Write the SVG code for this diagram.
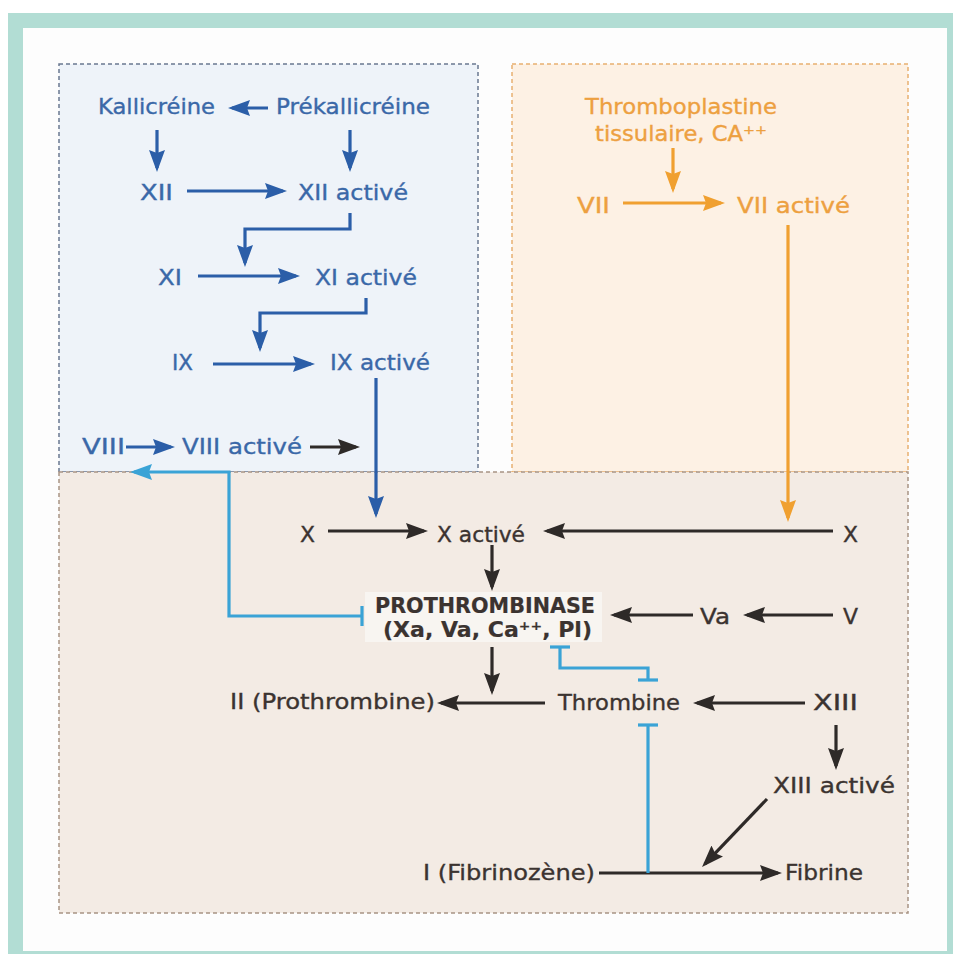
<svg xmlns="http://www.w3.org/2000/svg" width="953" height="954" viewBox="0 0 953 954">
<style>
text{font-family:Verdana,"DejaVu Sans",sans-serif;font-size:21px;text-anchor:middle;stroke-width:0.35}
.b{fill:#3a68a8;stroke:#3a68a8}
.o{fill:#eda040;stroke:#eda040}
.k{fill:#3b3330;stroke:#3b3330}
.bold{font-weight:bold;stroke-width:0.2}
.cb{fill:none;stroke:#2b5ea8;stroke-width:3.2}
.ck{fill:none;stroke:#2e2a28;stroke-width:3.2}
.co{fill:none;stroke:#f0a030;stroke-width:3.2}
.cl{fill:none;stroke:#3aa3d6;stroke-width:3.2}
</style>
<defs>
<marker id="ab" markerUnits="userSpaceOnUse" viewBox="0 0 22 16" markerWidth="22" markerHeight="16" refX="18" refY="8" orient="auto"><path d="M0,0 L22,8 L0,16 L3,8 z" fill="#2b5ea8"/></marker>
<marker id="ak" markerUnits="userSpaceOnUse" viewBox="0 0 22 16" markerWidth="22" markerHeight="16" refX="18" refY="8" orient="auto"><path d="M0,0 L22,8 L0,16 L3,8 z" fill="#2e2a28"/></marker>
<marker id="ao" markerUnits="userSpaceOnUse" viewBox="0 0 22 16" markerWidth="22" markerHeight="16" refX="18" refY="8" orient="auto"><path d="M0,0 L22,8 L0,16 L3,8 z" fill="#f0a030"/></marker>
<marker id="al" markerUnits="userSpaceOnUse" viewBox="0 0 22 16" markerWidth="22" markerHeight="16" refX="18" refY="8" orient="auto"><path d="M0,0 L22,8 L0,16 L3,8 z" fill="#3aa3d6"/></marker>
<marker id="tl" markerUnits="userSpaceOnUse" viewBox="0 0 4 20" markerWidth="4" markerHeight="20" refX="2" refY="10" orient="auto"><path d="M2,0 V20" stroke="#3aa3d6" stroke-width="3.2"/></marker>
</defs>
<rect x="0" y="0" width="953" height="954" fill="#ffffff"/>
<rect x="8" y="13" width="945" height="941" fill="#b2ddd4"/>
<rect x="23" y="28" width="924" height="923" fill="#fdfdfd"/>
<g id="zones">
<rect id="zone-intrinseque" x="59" y="64" width="419" height="408" fill="#eef3f9" stroke="#6a7890" stroke-width="1.5" stroke-dasharray="4,3"/>
<rect id="zone-extrinseque" x="512" y="64" width="396" height="408" fill="#fdf1e4" stroke="#e8b070" stroke-width="1.5" stroke-dasharray="4,3"/>
<rect id="zone-commune" x="59" y="472" width="849" height="441" fill="#f3ebe4" stroke="#a89484" stroke-width="1.5" stroke-dasharray="4,3"/>
</g>
<g id="connectors">
<path class="cb" d="M268,108 H232" marker-end="url(#ab)"/>
<path class="cb" d="M157,130 V168" marker-end="url(#ab)"/>
<path class="cb" d="M350,130 V168" marker-end="url(#ab)"/>
<path class="cb" d="M187,191 H283" marker-end="url(#ab)"/>
<path class="cb" d="M350,213 V229 H245 V263" marker-end="url(#ab)"/>
<path class="cb" d="M198,276 H296" marker-end="url(#ab)"/>
<path class="cb" d="M366,298 V313 H260 V348" marker-end="url(#ab)"/>
<path class="cb" d="M213,364 H311" marker-end="url(#ab)"/>
<path class="cb" d="M376,378 V514" marker-end="url(#ab)"/>
<path class="cb" d="M126,447 H171" marker-end="url(#ab)"/>
<path class="ck" d="M310,447 H356" marker-end="url(#ak)"/>
<path class="ck" d="M328,531 H424" marker-end="url(#ak)"/>
<path class="ck" d="M833,531 H547" marker-end="url(#ak)"/>
<path class="ck" d="M492,545 V587" marker-end="url(#ak)"/>
<path class="ck" d="M693,615 H614" marker-end="url(#ak)"/>
<path class="ck" d="M833,615 H747" marker-end="url(#ak)"/>
<path class="ck" d="M492,647 V691" marker-end="url(#ak)"/>
<path class="ck" d="M545,703 H441" marker-end="url(#ak)"/>
<path class="ck" d="M805,703 H697" marker-end="url(#ak)"/>
<path class="ck" d="M836,725 V766" marker-end="url(#ak)"/>
<path class="ck" d="M767,799 L704.8,864.1" marker-end="url(#ak)"/>
<path class="ck" d="M599,873 H778" marker-end="url(#ak)"/>
<path class="co" d="M673,148 V189" marker-end="url(#ao)"/>
<path class="co" d="M623,203 H721" marker-end="url(#ao)"/>
<path class="co" d="M788,225 V518" marker-end="url(#ao)"/>
<path class="cl" d="M362,616 H229 V472 H134" marker-start="url(#tl)" marker-end="url(#al)"/>
<path class="cl" d="M560,647 V668 H648 V680" marker-start="url(#tl)" marker-end="url(#tl)"/>
<path class="cl" d="M648,725 V873" marker-start="url(#tl)"/>
</g>
<g id="kallicreine"><text class="b" x="156.5" y="114" textLength="117" lengthAdjust="spacingAndGlyphs">Kallicréine</text></g>
<g id="prekallicreine"><text class="b" x="353" y="114" textLength="154" lengthAdjust="spacingAndGlyphs">Prékallicréine</text></g>
<g id="xii"><text class="b" x="156.5" y="200" textLength="33" lengthAdjust="spacingAndGlyphs">XII</text></g>
<g id="xii-active"><text class="b" x="353" y="200" textLength="110" lengthAdjust="spacingAndGlyphs">XII activé</text></g>
<g id="xi"><text class="b" x="170" y="285" textLength="24" lengthAdjust="spacingAndGlyphs">XI</text></g>
<g id="xi-active"><text class="b" x="366" y="285" textLength="102" lengthAdjust="spacingAndGlyphs">XI activé</text></g>
<g id="ix"><text class="b" x="182.5" y="370" textLength="21" lengthAdjust="spacingAndGlyphs">IX</text></g>
<g id="ix-active"><text class="b" x="380" y="370" textLength="100" lengthAdjust="spacingAndGlyphs">IX activé</text></g>
<g id="viii"><text class="b" x="103.5" y="454" textLength="43" lengthAdjust="spacingAndGlyphs">VIII</text></g>
<g id="viii-active"><text class="b" x="242" y="454" textLength="120" lengthAdjust="spacingAndGlyphs">VIII activé</text></g>
<g id="thromboplastine">
<text class="o" x="681" y="114" textLength="192" lengthAdjust="spacingAndGlyphs">Thromboplastine</text>
<text class="o" x="681" y="141" textLength="172" lengthAdjust="spacingAndGlyphs">tissulaire, CA⁺⁺</text>
</g>
<g id="vii"><text class="o" x="593.5" y="213" textLength="33" lengthAdjust="spacingAndGlyphs">VII</text></g>
<g id="vii-active"><text class="o" x="793.5" y="213" textLength="113" lengthAdjust="spacingAndGlyphs">VII activé</text></g>
<g id="x-left"><text class="k" x="307.5" y="542" textLength="15" lengthAdjust="spacingAndGlyphs">X</text></g>
<g id="x-active"><text class="k" x="481" y="542" textLength="88" lengthAdjust="spacingAndGlyphs">X activé</text></g>
<g id="x-right"><text class="k" x="850.5" y="542" textLength="15" lengthAdjust="spacingAndGlyphs">X</text></g>
<g id="prothrombinase">
<rect x="365" y="592" width="237" height="50" fill="#f8f5f1"/>
<text class="k bold" x="485" y="613" textLength="220" lengthAdjust="spacingAndGlyphs">PROTHROMBINASE</text>
<text class="k bold" x="487.5" y="637" textLength="209" lengthAdjust="spacingAndGlyphs">(Xa, Va, Ca⁺⁺, Pl)</text>
</g>
<g id="va"><text class="k" x="715" y="624" textLength="30" lengthAdjust="spacingAndGlyphs">Va</text></g>
<g id="v"><text class="k" x="850.5" y="624" textLength="15" lengthAdjust="spacingAndGlyphs">V</text></g>
<g id="prothrombine"><text class="k" x="332.5" y="709" textLength="205" lengthAdjust="spacingAndGlyphs">II (Prothrombine)</text></g>
<g id="thrombine"><text class="k" x="619" y="710" textLength="122" lengthAdjust="spacingAndGlyphs">Thrombine</text></g>
<g id="xiii"><text class="k" x="835.5" y="710" textLength="45" lengthAdjust="spacingAndGlyphs">XIII</text></g>
<g id="xiii-active"><text class="k" x="834" y="793" textLength="122" lengthAdjust="spacingAndGlyphs">XIII activé</text></g>
<g id="fibrinogene"><text class="k" x="509" y="880" textLength="172" lengthAdjust="spacingAndGlyphs">I (Fibrinozène)</text></g>
<g id="fibrine"><text class="k" x="824" y="880" textLength="78" lengthAdjust="spacingAndGlyphs">Fibrine</text></g>
</svg>
